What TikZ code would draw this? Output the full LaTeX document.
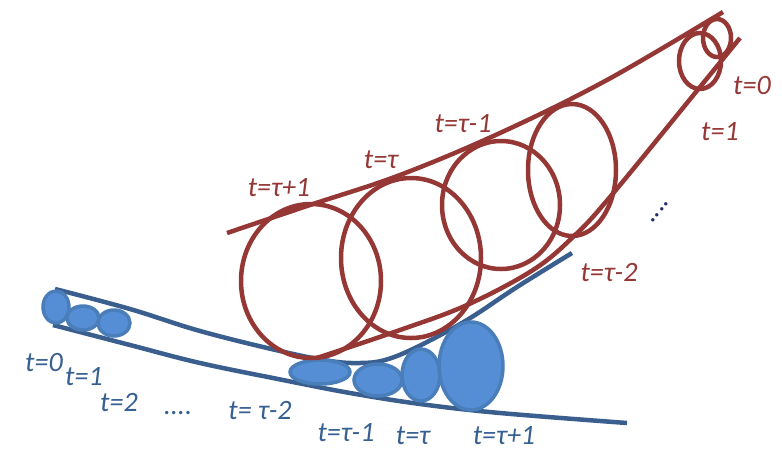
\documentclass[tikz,border=0pt]{standalone}
\usepackage{fontspec}
\setmainfont{Carlito}
\definecolor{trkred}{HTML}{953735}
\definecolor{trkblue}{HTML}{3A5F8E}
\definecolor{blobfill}{HTML}{558ED5}
\definecolor{blobedge}{HTML}{4A7EBB}
\definecolor{labblue}{HTML}{376092}
\definecolor{dotnavy}{HTML}{1F2A6E}
\usetikzlibrary{positioning}

\begin{document}
\begin{tikzpicture}[x=1pt,y=-1pt,
  redline/.style={trkred,line width=4.5pt},
  blueline/.style={trkblue,line width=4.5pt},
  blob/.style={draw=blobedge,fill=blobfill,line width=3.5pt},
  lab/.style={font=\fontsize{28}{32}\selectfont\itshape,inner sep=0pt},
  redlab/.style={lab,text=trkred},
  bluelab/.style={lab,text=labblue}]
\useasboundingbox (0,0) rectangle (782,451);
% blue track and blobs
\draw[blueline] plot[smooth,tension=0.6] coordinates {(55,289) (130,309) (200,331) (280,351) (330,361) (360,363) (385,360) (417,347) (467,320) (517,287) (572,253)};
\draw[blueline] plot[smooth,tension=0.6] coordinates {(53,325) (130,345) (200,363) (283,380) (350,393) (420,404) (500,413) (627,423)};
\draw[blob] (56,307) ellipse [x radius=13pt, y radius=16pt];
\draw[blob] (83,318) ellipse [x radius=16pt, y radius=12pt];
\draw[blob] (114,323) ellipse [x radius=16pt, y radius=13pt];
\draw[blob] (320,372) ellipse [x radius=30pt, y radius=12pt];
\draw[blob] (378,380) ellipse [x radius=24pt, y radius=16pt];
\draw[blob] (421,375) ellipse [x radius=19pt, y radius=26pt];
\draw[blob] (471,366) ellipse [x radius=32pt, y radius=44pt];
% red cone of circles
\draw[redline] plot[smooth,tension=0.6] coordinates {(227,233) (310,205) (400,175) (500,133) (607,80) (723,12)};
\draw[redline] plot[smooth,tension=0.6] coordinates {(317,358) (400,330) (467,305) (533,270) (573,237) (610,197) (700,87) (740,38)};
\draw[redline] (311,281) ellipse [x radius=70pt, y radius=77pt];
\draw[redline] (411,258) ellipse [x radius=70pt, y radius=80pt];
\draw[redline] (501,205) ellipse [x radius=59pt, y radius=64pt];
\draw[redline] (572,170) ellipse [x radius=44pt, y radius=66pt];
\draw[redline] (700,61) ellipse [x radius=21pt, y radius=28pt];
\draw[redline] (717,38) ellipse [x radius=14pt, y radius=19pt];
% labels
\node[redlab] (r0) at (752,86) {t=0};
\node[redlab] (r1) at (720,132) {t=1};
\node[redlab] (rtm1) at (463,124) {t=τ-1};
\node[redlab] (rt) at (381,160) {t=τ};
\node[redlab] (rtp1) at (279,188) {t=τ+1};
\node[redlab] (rtm2) at (609,273) {t=τ-2};
\node[lab,text=dotnavy,rotate=50] (rdots) at (660,212) {....};
\node[bluelab] (b0) at (44,363) {t=0};
\node[bluelab] (b1) at (84,377) {t=1};
\node[bluelab] (b2) at (119,403) {t=2};
\node[bluelab] (bdots) at (178,413) {....};
\node[bluelab] (btm2) at (260,411) {t= τ-2};
\node[bluelab] (btm1) at (346,433) {t=τ-1};
\node[bluelab] (bt) at (413,436) {t=τ};
\node[bluelab] (btp1) at (504,436) {t=τ+1};
\end{tikzpicture}
\end{document}
